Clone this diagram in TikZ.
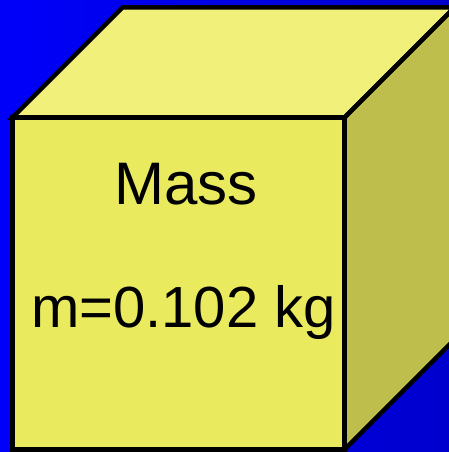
\documentclass[tikz,border=0pt]{standalone}
\usepackage{fontspec}
\setmainfont{Liberation Sans}
\definecolor{bgL}{RGB}{0,0,250}
\definecolor{bgR}{RGB}{0,0,205}
\definecolor{frontc}{RGB}{234,234,94}
\definecolor{topc}{RGB}{240,240,122}
\definecolor{sidec}{RGB}{190,190,76}
\tikzset{face/.style={draw=black,line width=4.5pt,line join=miter},
  lbl/.style={font=\fontsize{58}{60}\selectfont,anchor=base,inner sep=0pt}}
\begin{document}
\begin{tikzpicture}[x=1pt,y=-1pt]
\useasboundingbox (0,0) rectangle (449,452);
\clip (0,0) rectangle (449,452);
\shade[left color=bgL,right color=bgR] (0,0) rectangle (449,452);
\coordinate (A) at (12.5,117.5);
\coordinate (B) at (344.5,117.5);
\coordinate (C) at (344.5,449.5);
\coordinate (D) at (12.5,449.5);
\coordinate (E) at (122.5,7.5);
\coordinate (F) at (454.5,7.5);
\coordinate (G) at (454.5,339.5);
\fill[topc] (A) -- (E) -- (F) -- (B) -- cycle;
\fill[sidec] (B) -- (F) -- (G) -- (C) -- cycle;
\fill[frontc] (A) -- (B) -- (C) -- (D) -- cycle;
\draw[face] (A) -- (E) -- (F) -- (B) -- cycle;
\draw[face] (B) -- (F) -- (G) -- (C) -- cycle;
\draw[face] (A) -- (B) -- (C) -- (D) -- cycle;
\node[lbl,font=\fontsize{60}{62}\selectfont] (mass) at (186,204) {Mass};
\node[lbl] (val) at (183.5,327) {m=0.102 kg};
\end{tikzpicture}
\end{document}
